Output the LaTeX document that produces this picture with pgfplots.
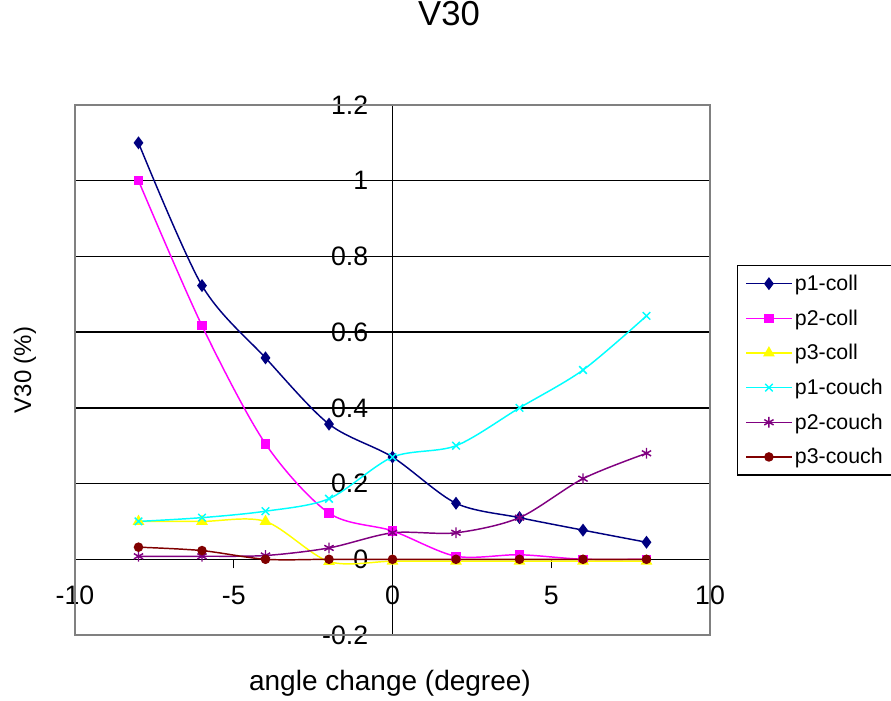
\documentclass[border=0pt]{standalone}
\usepackage{pgfplots}
\pgfplotsset{compat=1.18}
\usepackage{fontspec}
\setmainfont{Liberation Sans}
\definecolor{cNavy}{RGB}{0,0,128}
\definecolor{cMag}{RGB}{255,0,255}
\definecolor{cYel}{RGB}{255,255,0}
\definecolor{cCyan}{RGB}{0,255,255}
\definecolor{cPurp}{RGB}{128,0,128}
\definecolor{cDred}{RGB}{128,0,0}
\begin{document}
\begin{tikzpicture}
\begin{axis}[
  scale only axis, width=476.25pt, height=397.5pt,
  xmin=-10, xmax=10, ymin=-0.2, ymax=1.2,
  axis lines=middle,
  axis line style={black, line width=1pt, -},
  xtick={-10,-5,0,5,10},
  ytick={-0.2,0,0.2,0.4,0.6,0.8,1,1.2},
  tick align=outside, major tick length=6.75pt,
  tick style={black, line width=1pt},
  hide obscured x ticks=false, hide obscured y ticks=false,
  ymajorgrids, major grid style={black, line width=1pt},
  /pgf/number format/assume math mode=true,
  ticklabel style={font=\fontsize{20}{23}\selectfont},
  xticklabel style={yshift=-10pt},
  yticklabel style={xshift=-8pt},
  title={V30},
  title style={at={(axis description cs:0.589,1.157)}, anchor=center, font=\fontsize{26}{30}\selectfont},
  xlabel={angle change (degree)},
  xlabel style={at={(axis description cs:0.496,-0.0906)}, anchor=center, font=\fontsize{21}{25}\selectfont},
  ylabel={V30 (\%)},
  ylabel style={at={(axis description cs:-0.0787,0.5)}, anchor=center, rotate=90, font=\fontsize{18}{22}\selectfont},
  legend style={at={(axis description cs:1.0425,0.698)}, anchor=north west, draw=black, line width=0.8pt,
    font=\fontsize{16}{19}\selectfont, row sep=8.9pt, inner xsep=6pt, inner ysep=5pt, fill=white},
  legend cell align=left,
  legend image code/.code={\draw[mark repeat=2,mark phase=2] plot coordinates {(0pt,0pt)(17pt,0pt)(34pt,0pt)};},
  every axis plot/.append style={line width=1.1pt, smooth, tension=0.5},
  clip=false,
]
\addplot[color=cNavy, mark=diamond*, mark size=4pt, mark options={solid}] coordinates {
  (-8,1.10) (-6,0.723) (-4,0.532) (-2,0.357) (0,0.27) (2,0.148) (4,0.11) (6,0.077) (8,0.045)};
\addlegendentry{p1-coll}
\addplot[color=cMag, mark=square*, mark size=3pt] coordinates {
  (-8,1.00) (-6,0.617) (-4,0.305) (-2,0.122) (0,0.075) (2,0.008) (4,0.012) (6,0) (8,0)};
\addlegendentry{p2-coll}
\addplot[color=cYel, mark=triangle*, mark size=4pt] coordinates {
  (-8,0.10) (-6,0.10) (-4,0.10) (-2,-0.006) (0,-0.005) (2,-0.005) (4,-0.005) (6,-0.005) (8,-0.005)};
\addlegendentry{p3-coll}
\addplot[color=cCyan, mark=x, mark size=4pt] coordinates {
  (-8,0.10) (-6,0.11) (-4,0.127) (-2,0.16) (0,0.27) (2,0.30) (4,0.40) (6,0.50) (8,0.643)};
\addlegendentry{p1-couch}
\addplot[color=cPurp, mark=asterisk, mark size=4pt] coordinates {
  (-8,0.008) (-6,0.008) (-4,0.01) (-2,0.03) (0,0.07) (2,0.07) (4,0.11) (6,0.213) (8,0.28)};
\addlegendentry{p2-couch}
\addplot[color=cDred, mark=*, mark size=3pt] coordinates {
  (-8,0.032) (-6,0.023) (-4,0) (-2,0) (0,0) (2,0) (4,0) (6,0) (8,0)};
\addlegendentry{p3-couch}
\draw[gray, line width=1pt] (rel axis cs:0,0) rectangle (rel axis cs:1,1);
\coordinate (ll) at (rel axis cs:0,0);
\end{axis}
\pgfresetboundingbox
\path[use as bounding box] ([shift={(-56.25pt,-48.75pt)}]ll) rectangle ([shift={(612pt,476.25pt)}]ll);
\end{tikzpicture}
\end{document}
